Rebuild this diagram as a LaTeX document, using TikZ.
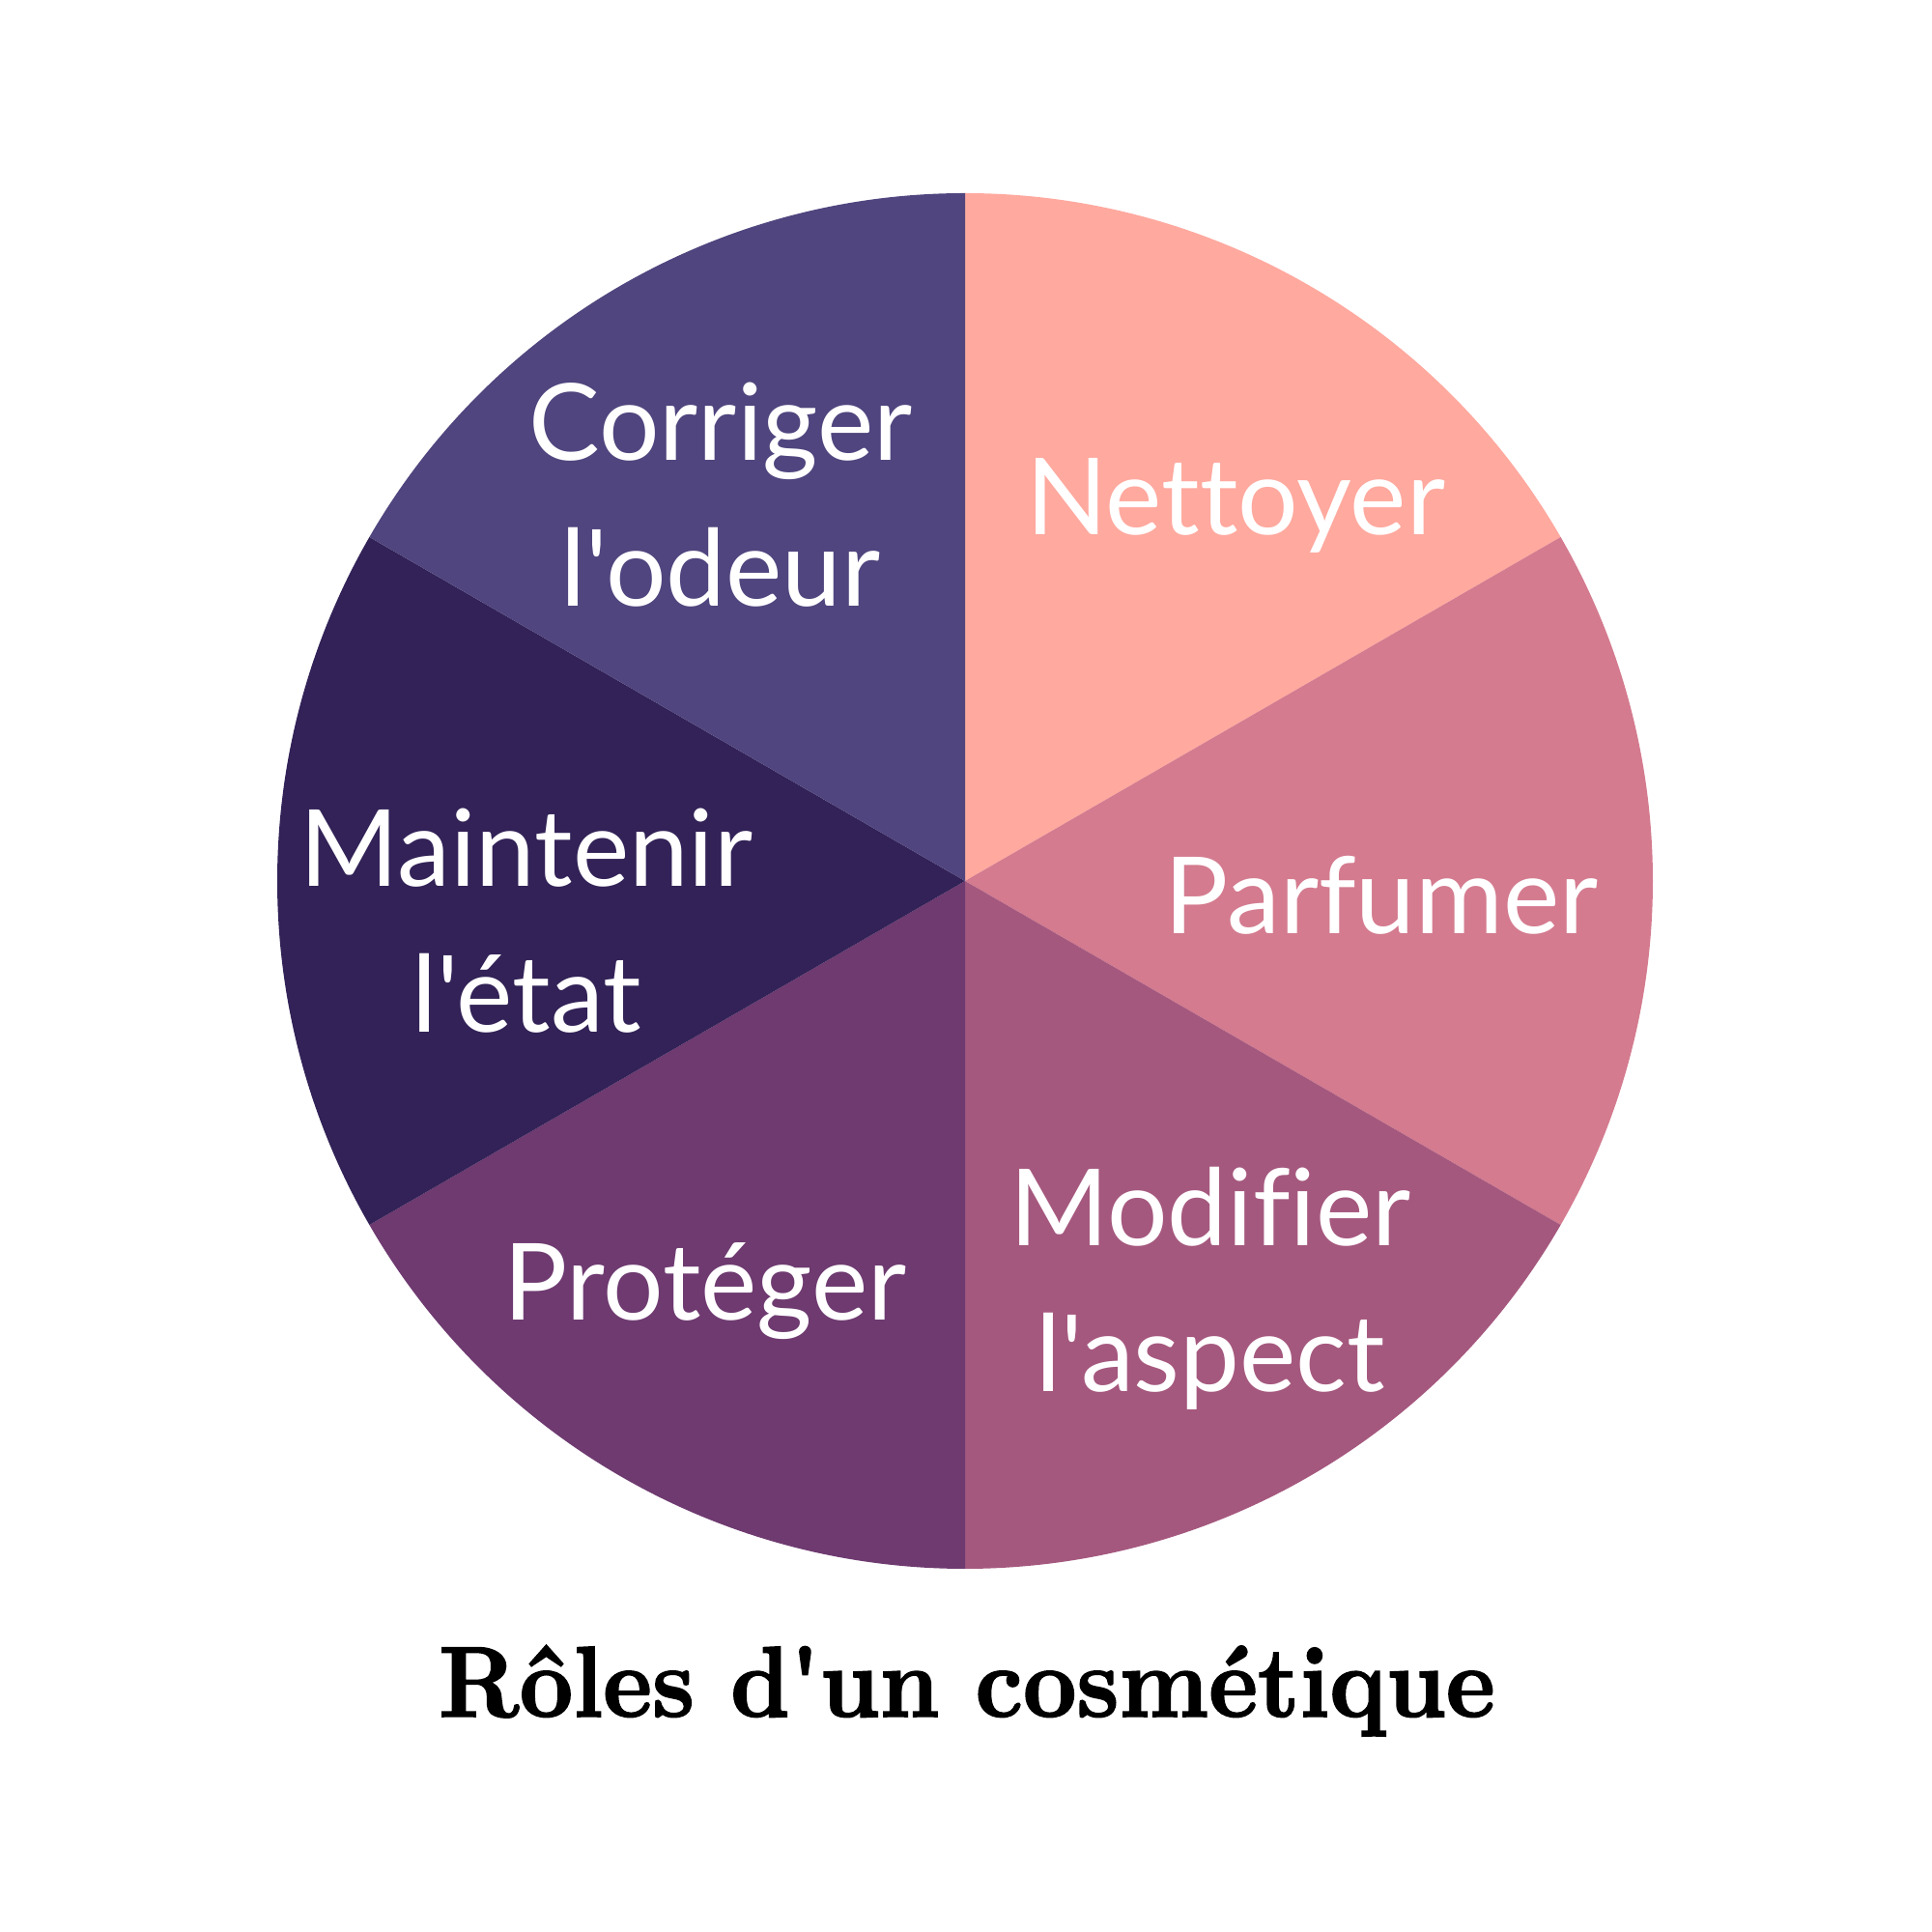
\documentclass[tikz,border=0pt]{standalone}
\usepackage{fontspec}
\usepackage{xcolor}
\usepackage{tikz}
\usetikzlibrary{positioning}
\newfontfamily\latofont[Ligatures=NoCommon]{Lato}
\newfontfamily\titlefont[FakeBold=1.6]{lmroman10-bold.otf}
\definecolor{nettclr}{RGB}{255,169,159}
\definecolor{parfclr}{RGB}{212,123,143}
\definecolor{modifclr}{RGB}{165,88,126}
\definecolor{protclr}{RGB}{110,58,112}
\definecolor{maintclr}{RGB}{50,34,87}
\definecolor{corrclr}{RGB}{80,69,126}
\tikzset{
  slicelbl/.style={text=white,align=center,inner sep=0pt,anchor=base,
                   font=\latofont\fontsize{31.4}{43.2}\selectfont},
  titlelbl/.style={inner sep=0pt,anchor=base,xscale=0.93,
                   font=\titlefont\fontsize{29.6}{32}\selectfont},
}

\begin{document}
\begin{tikzpicture}
\useasboundingbox[fill=white] (0,0) rectangle (20,20);
\coordinate (ctr) at (9.99,10.88);
% pie slices
\foreach \sa/\ea/\clr in {30/90/nettclr,-30/30/parfclr,-90/-30/modifclr,
                          -150/-90/protclr,150/210/maintclr,90/150/corrclr}
  \fill[\clr] (ctr) -- ++(\sa:7.12) arc[start angle=\sa,end angle=\ea,radius=7.12] -- cycle;
% labels (base = last line)
\node[slicelbl] (nett) at (12.79,14.46) {Nettoyer};
\node[slicelbl] (corr) at (7.46,13.72) {Corriger\\l'odeur};
\node[slicelbl] (parf) at (14.30,10.33) {Parfumer};
\node[slicelbl] (maint) at (5.45,9.31) {Maintenir\\l'état};
\node[slicelbl] (modif) at (12.53,5.59) {Modifier\\l'aspect};
\node[slicelbl] (prot) at (7.30,6.33) {Protéger};
\node[titlelbl] (title) at (10.01,2.23) {Rôles d'un cosmétique};
\end{tikzpicture}
\end{document}
